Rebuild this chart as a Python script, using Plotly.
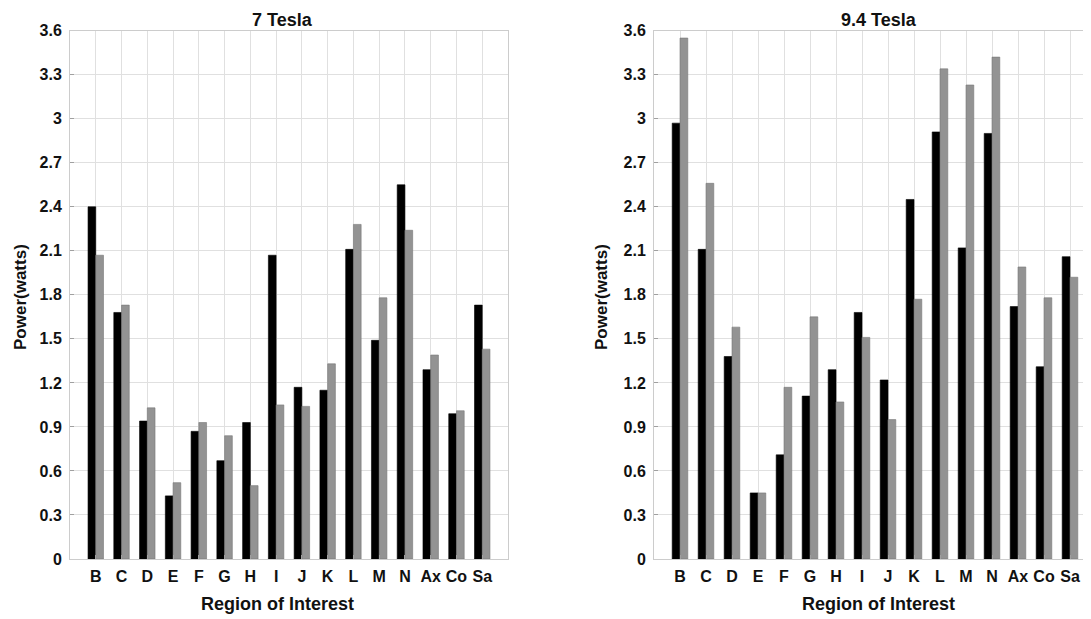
import plotly.graph_objects as go

regions = ["B", "C", "D", "E", "F", "G", "H", "I", "J", "K", "L", "M", "N", "Ax", "Co", "Sa"]

t7_black = [2.40, 1.68, 0.94, 0.43, 0.87, 0.67, 0.93, 2.07, 1.17, 1.15, 2.11, 1.49, 2.55, 1.29, 0.99, 1.73]
t7_gray = [2.07, 1.73, 1.03, 0.52, 0.93, 0.84, 0.50, 1.05, 1.04, 1.33, 2.28, 1.78, 2.24, 1.39, 1.01, 1.43]

t94_black = [2.97, 2.11, 1.38, 0.45, 0.71, 1.11, 1.29, 1.68, 1.22, 2.45, 2.91, 2.12, 2.90, 1.72, 1.31, 2.06]
t94_gray = [3.55, 2.56, 1.58, 0.45, 1.17, 1.65, 1.07, 1.51, 0.95, 1.77, 3.34, 3.23, 3.42, 1.99, 1.78, 1.92]

y_ticks = [0, 0.3, 0.6, 0.9, 1.2, 1.5, 1.8, 2.1, 2.4, 2.7, 3.0, 3.3, 3.6]
y_tick_text = ["0", "0.3", "0.6", "0.9", "1.2", "1.5", "1.8", "2.1", "2.4", "2.7", "3", "3.3", "3.6"]

# page has an 8px body margin, so the figure is sized/positioned to compensate
OFF = 8
W, H = 1091 - OFF, 619 - OFF


def px(X):
    return (X - OFF) / W


def py(Y):
    return 1 - (Y - OFF) / H


FONT = "Liberation Sans, Arial, Helvetica, sans-serif"
BLACK = "#000000"
GRAY = "#939393"
GRID = "#e0e0e0"
FRAME = "#cccccc"

fig = go.Figure()

fig.add_trace(go.Bar(x=regions, y=t7_black, marker=dict(color=BLACK, line=dict(color=BLACK, width=0.6)),
                     xaxis="x", yaxis="y", showlegend=False))
fig.add_trace(go.Bar(x=regions, y=t7_gray, marker=dict(color=GRAY, line=dict(color="#777777", width=0.6)),
                     xaxis="x", yaxis="y", showlegend=False))
fig.add_trace(go.Bar(x=regions, y=t94_black, marker=dict(color=BLACK, line=dict(color=BLACK, width=0.6)),
                     xaxis="x2", yaxis="y2", showlegend=False))
fig.add_trace(go.Bar(x=regions, y=t94_gray, marker=dict(color=GRAY, line=dict(color="#777777", width=0.6)),
                     xaxis="x2", yaxis="y2", showlegend=False))

left_dom = [px(70), px(508)]
right_dom = [px(654), 1.0]
y_dom = [py(559), py(30.7)]

# right panel: 26 px per category, axis clipped by the page edge
right_span = (1091 - 654) / 26.0

tickfont = dict(family=FONT, size=16, color="#111111", weight="bold")

xcommon = dict(
    type="category", categoryorder="array", categoryarray=regions,
    showgrid=True, gridcolor=GRID, gridwidth=1,
    showline=True, linecolor=FRAME, linewidth=1, mirror=True,
    ticks="inside", ticklen=4, tickcolor="#a0a0a0",
    tickfont=tickfont, ticklabelstandoff=3, automargin=False, zeroline=False,
)
ycommon = dict(
    range=[0, 3.6], tickvals=y_ticks, ticktext=y_tick_text,
    showgrid=True, gridcolor=GRID, gridwidth=1,
    showline=True, linecolor=FRAME, linewidth=1,
    ticks="inside", ticklen=4, tickcolor="#a0a0a0",
    tickfont=tickfont, ticklabelstandoff=4, automargin=False, zeroline=False,
)

fig.update_layout(
    width=W, height=H,
    margin=dict(l=0, r=0, t=0, b=0),
    paper_bgcolor="white", plot_bgcolor="white",
    barmode="group", bargap=0.4, bargroupgap=0.0,
    showlegend=False,
    xaxis=dict(domain=left_dom, anchor="y", range=[-1, 16], **xcommon),
    yaxis=dict(domain=y_dom, anchor="x", mirror=True, **ycommon),
    xaxis2=dict(domain=right_dom, anchor="y2", range=[-1, right_span - 1], **xcommon),
    yaxis2=dict(domain=y_dom, anchor="x2", mirror=False, **ycommon),
)

ann_font = dict(family=FONT, size=18, color="#111111", weight="bold")
ylab_font = dict(family=FONT, size=17, color="#111111", weight="bold")
annotations = [
    dict(text="7 Tesla", x=px(282), y=py(8), yanchor="top"),
    dict(text="9.4 Tesla", x=px(879), y=py(8), yanchor="top"),
    dict(text="Region of Interest", x=px(277), y=py(604), yanchor="middle"),
    dict(text="Region of Interest", x=px(878), y=py(604), yanchor="middle"),
]
annotations = [dict(a, xref="paper", yref="paper", xanchor="center",
                    showarrow=False, font=ann_font) for a in annotations]
annotations += [
    dict(text="Power(watts)", x=px(20), y=py(297), xref="paper", yref="paper",
         xanchor="center", yanchor="middle", showarrow=False, textangle=-90, font=ylab_font),
    dict(text="Power(watts)", x=px(601), y=py(297), xref="paper", yref="paper",
         xanchor="center", yanchor="middle", showarrow=False, textangle=-90, font=ylab_font),
]
fig.update_layout(annotations=annotations)

fig.write_html("out.html")
